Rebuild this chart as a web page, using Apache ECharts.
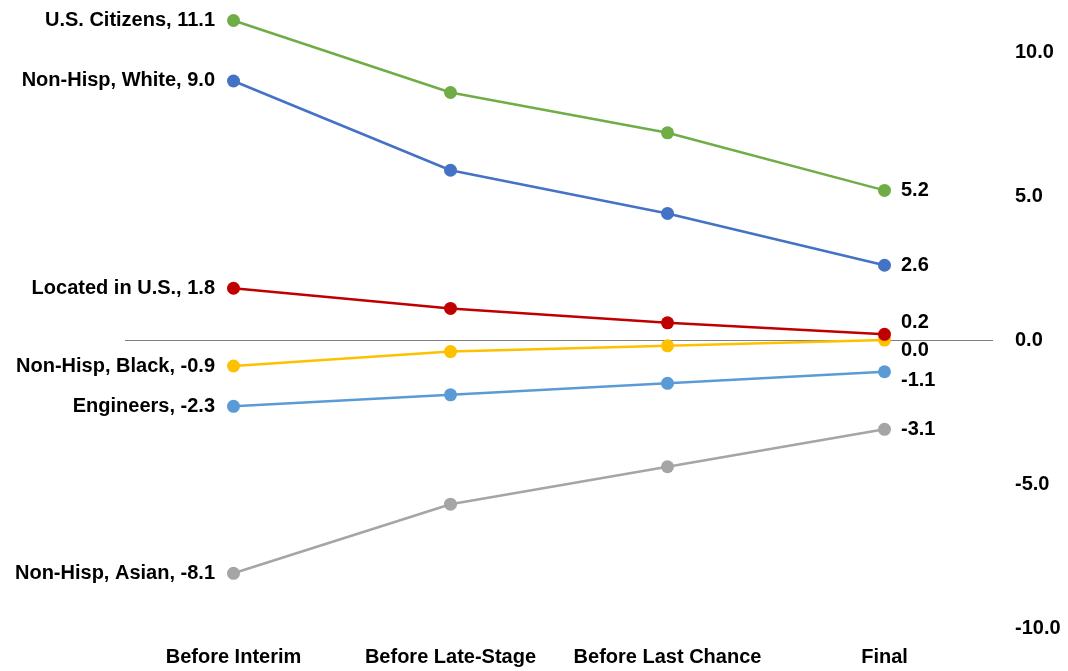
<!DOCTYPE html>
<html>
<head>
<meta charset="utf-8">
<script src="https://cdn.jsdelivr.net/npm/echarts@6/dist/echarts.min.js"></script>
<style>html,body{margin:0;padding:0;background:#fff}#c{width:1068px;height:671px}</style>
</head>
<body>
<div id="c"></div>
<script>
const categories = ['Before Interim', 'Before Late-Stage', 'Before Last Chance', 'Final'];
const seriesNames = ['U.S. Citizens', 'Non-Hisp, White', 'Located in U.S.', 'Non-Hisp, Black', 'Engineers', 'Non-Hisp, Asian'];
const usCitizens = [11.1, 8.6, 7.2, 5.2];
const nonHispWhite = [9.0, 5.9, 4.4, 2.6];
const locatedInUS = [1.8, 1.1, 0.6, 0.2];
const nonHispBlack = [-0.9, -0.4, -0.2, 0.0];
const engineers = [-2.3, -1.9, -1.5, -1.1];
const nonHispAsian = [-8.1, -5.7, -4.4, -3.1];
const yTicks = [-10, -5, 0, 5, 10];

const FONT = '"Liberation Sans", Arial, sans-serif';
const colors = ['#70AD47', '#4472C4', '#C00000', '#FFC000', '#5B9BD5', '#A5A5A5'];
const values = [usCitizens, nonHispWhite, locatedInUS, nonHispBlack, engineers, nonHispAsian];
const lastOffsets = [[0, 0], [0, 0], [0, -12], [0, 10], [0, 9], [0, 0]];
const drawOrder = [3, 4, 5, 1, 0, 2];

const labelBase = {fontFamily: FONT, fontWeight: 'bold', fontSize: 20, color: '#000'};

const series = drawOrder.map(i => ({
  name: seriesNames[i],
  type: 'line',
  symbol: 'circle',
  symbolSize: 13,
  lineStyle: {color: colors[i], width: 2.5},
  itemStyle: {color: colors[i]},
  z: 3,
  data: values[i].map((v, j) => {
    const d = {value: v};
    if (j === 0) {
      d.label = Object.assign({show: true, position: 'left', distance: 12,
        formatter: seriesNames[i] + ', ' + v.toFixed(1)}, labelBase);
    } else if (j === values[i].length - 1) {
      d.label = Object.assign({show: true, position: 'right', distance: 10,
        offset: lastOffsets[i], formatter: v.toFixed(1)}, labelBase);
    }
    return d;
  }),
  markLine: i === 3 ? {
    silent: true, symbol: 'none', label: {show: false},
    lineStyle: {color: '#7f7f7f', width: 1, type: 'solid'},
    data: [{yAxis: 0}], z: 1
  } : undefined
}));

const chart = echarts.init(document.getElementById('c'));
chart.setOption({
  animation: false,
  backgroundColor: '#fff',
  grid: {left: 125, right: 75, top: 9, bottom: 43},
  xAxis: {
    type: 'category',
    data: categories,
    boundaryGap: true,
    axisLine: {show: false},
    axisTick: {show: false},
    axisLabel: {interval: 0, fontFamily: FONT, fontWeight: 'bold', fontSize: 20, color: '#000', margin: 19}
  },
  yAxis: {
    type: 'value',
    position: 'right',
    min: -10,
    max: 11.5,
    interval: 5,
    splitLine: {show: false},
    axisLine: {show: false},
    axisTick: {show: false},
    axisLabel: {
      fontFamily: FONT, fontWeight: 'bold', fontSize: 20, color: '#000', margin: 22,
      formatter: v => yTicks.includes(v) ? v.toFixed(1) : ''
    }
  },
  series: series
});
</script>
</body>
</html>
